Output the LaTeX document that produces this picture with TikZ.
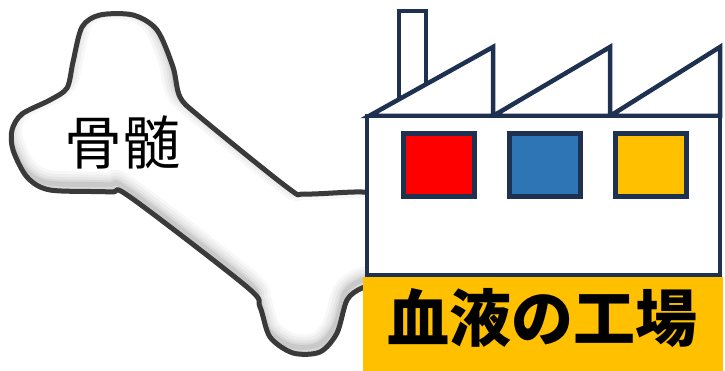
\documentclass[tikz,border=0pt]{standalone}
\usepackage{fontspec}
\newfontfamily\jpfont{Noto Sans CJK JP}
\usetikzlibrary{positioning}
\definecolor{navy}{HTML}{1F3150}
\definecolor{boneline}{HTML}{3A3A3A}
\definecolor{winred}{HTML}{FF0000}
\definecolor{winblue}{HTML}{2E75B6}
\definecolor{winyellow}{HTML}{FFC000}

\newcommand{\bonepath}{plot[smooth cycle, tension=0.5] coordinates {
    (12,130) (22,114) (50,100) (67,88) (73,62) (82,27) (100,15) (133,15)
    (157,30) (173,67) (180,97) (200,117) (288,188) (305,194) (362,192)
    (388,198) (398,240) (388,280) (362,288) (347,300) (337,333) (320,352)
    (293,353) (270,337) (260,307) (247,287) (130,197) (110,192) (50,190)
    (27,177) (13,150)}}

\begin{document}
\begin{tikzpicture}[x=1pt, y=-1pt,
    outline/.style={draw=navy, line width=4.5pt, fill=white, line join=miter},
    window/.style={rectangle, draw=navy, line width=5pt, outer sep=0pt,
    inner sep=0pt, minimum width=71pt, minimum height=63pt},
    label/.style={inner sep=0pt, text=black}]
    \useasboundingbox (0,0) rectangle (725,371);

    % bone, with a soft shadow along its lower edges
    \fill[white] \bonepath;
    \begin{scope}
        \clip \bonepath;
        \foreach \w/\o in {26/0.04, 20/0.05, 14/0.06, 9/0.08, 5/0.10}
            \draw[shift={(-2,-7)}, line width=\w pt, draw=black!70, opacity=\o] \bonepath;
    \end{scope}
    \draw[boneline, line width=5pt] \bonepath;
    \node[label, font=\jpfont\fontsize{58}{64}\selectfont] (marrow) at (122,142) {骨髄};

    % factory
    \draw[outline] (399,116) rectangle (426,11);
    \draw[outline] (369,116) -- (493,47) -- (493,116) -- (610,47) -- (610,116)
        -- (720,47) -- (720,116) -- cycle;
    \node[outline, minimum width=353pt, minimum height=159pt, inner sep=0pt] (body) at (543.5,195.5) {};

    \node[window, fill=winred] (red) at (438.5,165.5) {};
    \node[window, fill=winblue, right=35pt of red] (blue) {};
    \node[window, fill=winyellow, right=35pt of blue] (yellow) {};

    % sign under the building
    \node[fill=winyellow, minimum width=360pt, minimum height=94pt, inner sep=0pt] (banner) at (543,324) {};
    \node[label, font=\jpfont\bfseries\fontsize{62}{68}\selectfont] (factory) at (542,318) {血液の工場};
\end{tikzpicture}
\end{document}
